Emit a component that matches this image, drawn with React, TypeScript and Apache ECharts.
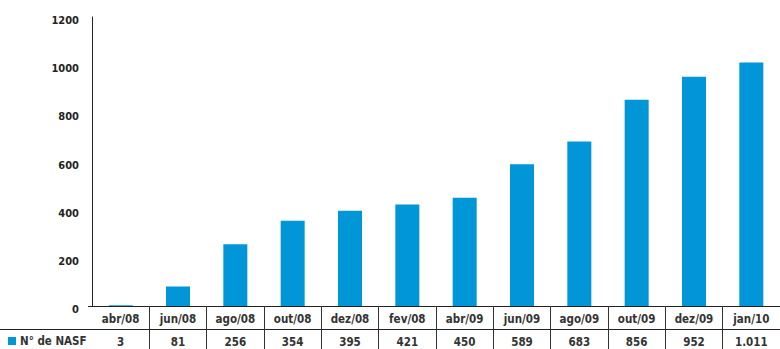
import React, { useEffect, useRef } from "react";
import * as echarts from "echarts";

const categories = ["abr/08", "jun/08", "ago/08", "out/08", "dez/08", "fev/08", "abr/09", "jun/09", "ago/09", "out/09", "dez/09", "jan/10"];
const nasfValues = [3, 81, 256, 354, 395, 421, 450, 589, 683, 856, 952, 1011];
const seriesName = "N° de NASF";
const yTicks = { min: 0, max: 1200, interval: 200 };

const FONT = '"DejaVu Sans Condensed", "Roboto", sans-serif';
const BLUE = "#0096d8";

export default function App() {
  const ref = useRef<HTMLDivElement>(null);
  useEffect(() => {
    if (!ref.current) return;
    const chart = echarts.init(ref.current, undefined, { renderer: "svg" });
    const fmt = (n: number) => n.toString().replace(/\B(?=(\d{3})+(?!\d))/g, ".");
    chart.setOption({
      animation: false,
      textStyle: { fontFamily: FONT },
      grid: { left: 92, right: -10, top: 17, bottom: 43, containLabel: false },
      legend: {
        data: [seriesName],
        left: 8,
        top: 335,
        icon: "rect",
        itemWidth: 8,
        itemHeight: 8,
        itemGap: 5,
        padding: 0,
        textStyle: { fontFamily: FONT, fontWeight: "bold", fontSize: 11.5, color: "#333", padding: [0, 0, 0, -1] },
      },
      xAxis: [
        {
          type: "category",
          data: categories,
          boundaryGap: true,
          position: "bottom",
          axisLine: { show: true, lineStyle: { color: "#222", width: 1 } },
          axisTick: { show: true, length: 43, interval: (i: number) => i !== 0, lineStyle: { color: "#333", width: 1 } },
          axisLabel: { interval: 0, margin: 7, fontFamily: FONT, fontWeight: "bold", fontSize: 11.5, color: "#333" },
        },
        {
          type: "category",
          data: nasfValues.map(fmt),
          boundaryGap: true,
          position: "bottom",
          offset: 23,
          axisLine: { show: false },
          axisTick: { show: false },
          axisLabel: { interval: 0, margin: 7, fontFamily: FONT, fontWeight: "bold", fontSize: 11.5, color: "#333" },
        },
      ],
      yAxis: {
        type: "value",
        min: yTicks.min,
        max: yTicks.max,
        interval: yTicks.interval,
        axisLine: { show: true, lineStyle: { color: "#222", width: 1 } },
        axisTick: { show: false },
        splitLine: { show: false },
        axisLabel: {
          margin: 13,
          formatter: (v: number) => String(v),
          fontFamily: FONT,
          fontWeight: "bold",
          fontSize: 11,
          color: "#222",
          verticalAlign: "top",
          lineHeight: 7,
        },
      },
      series: [
        {
          name: seriesName,
          type: "bar",
          data: nasfValues,
          barWidth: 24,
          itemStyle: { color: BLUE },
        },
      ],
      graphic: [
        { type: "line", shape: { x1: 0, y1: 329.5, x2: 780, y2: 329.5 }, style: { stroke: "#222", lineWidth: 1 } },
        { type: "line", shape: { x1: 88, y1: 306.5, x2: 92, y2: 306.5 }, style: { stroke: "#222", lineWidth: 1 } },
      ],
    });
    return () => chart.dispose();
  }, []);
  return <div ref={ref} style={{ width: 780, height: 349, position: "absolute", left: 0, top: 0 }} />;
}
